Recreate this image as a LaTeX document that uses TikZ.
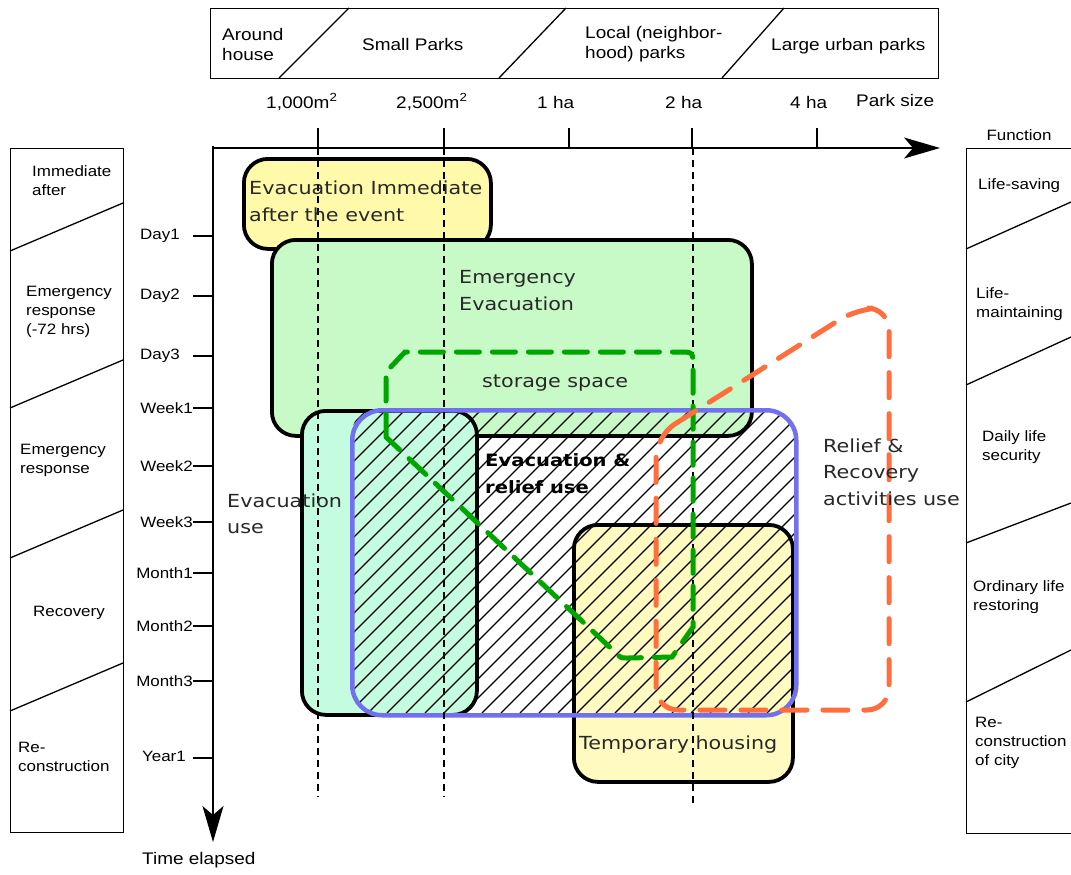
\documentclass[tikz,border=0pt]{standalone}
\usepackage{fontspec}
\setmainfont{Liberation Sans}[FakeStretch=1.13]
\newfontfamily\dv{DejaVu Sans}[FakeStretch=1.15]
\usetikzlibrary{arrows.meta}
\definecolor{yelbox}{RGB}{255,250,170}
\definecolor{grnbox}{RGB}{200,250,200}
\definecolor{mintbox}{RGB}{196,252,224}
\definecolor{housebox}{RGB}{255,251,192}
\definecolor{bluebd}{RGB}{112,112,240}
\definecolor{grndash}{RGB}{0,165,0}
\definecolor{orgdash}{RGB}{255,110,60}
\definecolor{txtgray}{RGB}{40,40,40}
\tikzset{
  frame/.style={draw, line width=1.3pt, inner sep=0pt, anchor=north west},
  toplbl/.style={font=\fontsize{16.8}{20}\selectfont, align=left, inner sep=0pt, anchor=west},
  sidelbl/.style={font=\fontsize{15}{19}\selectfont, align=left, inner sep=0pt, anchor=west},
  ticklbl/.style={font=\fontsize{15}{18}\selectfont, inner sep=0pt, anchor=east},
  boxlbl/.style={font=\dv\fontsize{18}{26.5}\selectfont, text=txtgray, align=left, inner sep=0pt, anchor=west},
  bigbox/.style={draw=black, line width=3.8pt, rounded corners=24pt, inner sep=0pt, anchor=north west},
  axisline/.style={line width=1.3pt, -{Stealth[length=36pt,width=21pt,inset=9pt]}},
  dashv/.style={line width=1.3pt, dash pattern=on 7pt off 5pt},
  gdash/.style={draw=grndash, line width=5pt, line cap=round, dash pattern=on 23pt off 13pt},
  odash/.style={draw=orgdash, line width=5pt, line cap=round, dash pattern=on 25pt off 16pt, rounded corners=22pt},
  hatchln/.style={line width=1.2pt}
}
\begin{document}
\begin{tikzpicture}[x=1pt,y=-1pt]
\useasboundingbox (0,0) rectangle (1071,875);
\fill[white] (0,0) rectangle (1071,875);

% ---------- top category box ----------
\node (topbox) [frame, minimum width=728pt, minimum height=70pt] at (210,8) {};
\draw[line width=1.3pt] (279,78) -- (349,8);
\draw[line width=1.3pt] (499,78) -- (566,8);
\draw[line width=1.3pt] (722,78) -- (784,8);
\node (t1) [toplbl] at (222,44) {Around\\house};
\node (t2) [toplbl] at (362,44) {Small Parks};
\node (t3) [toplbl] at (585,44) {Local (neighbor-\\hood) parks};
\node (t4) [toplbl] at (771,46) {Large urban parks};

% ---------- park size labels ----------
\node (s1) [toplbl] at (266,102) {1,000m\textsuperscript{2}};
\node (s2) [toplbl] at (396,102) {2,500m\textsuperscript{2}};
\node (s3) [toplbl] at (537,102) {1 ha};
\node (s4) [toplbl] at (665,102) {2 ha};
\node (s5) [toplbl] at (790,102) {4 ha};
\node (s6) [toplbl] at (856,100) {Park size};

% ---------- left phase box ----------
\node (lbox) [frame, minimum width=113pt, minimum height=684pt] at (10,148) {};
\draw[line width=1.3pt] (10,251) -- (123,203);
\draw[line width=1.3pt] (10,408) -- (123,360);
\draw[line width=1.3pt] (10,558) -- (123,510);
\draw[line width=1.3pt] (10,711) -- (123,663);
\node (l1) [sidelbl] at (32,181) {Immediate\\after};
\node (l2) [sidelbl] at (26,312) {Emergency\\response\\(-72 hrs)};
\node (l3) [sidelbl] at (20,460) {Emergency\\response};
\node (l4) [sidelbl] at (33,613) {Recovery};
\node (l5) [sidelbl] at (18,757) {Re-\\construction};

% ---------- right function box ----------
\node (fn) [font=\fontsize{15}{19}\selectfont, inner sep=0pt] at (1019,135) {Function};
\node (rbox) [frame, minimum width=130pt, minimum height=685pt] at (966,148) {};
\draw[line width=1.3pt] (966,249) -- (1071,202);
\draw[line width=1.3pt] (966,385) -- (1071,337);
\draw[line width=1.3pt] (966,543) -- (1071,503);
\draw[line width=1.3pt] (966,702) -- (1071,650);
\node (r1) [sidelbl] at (978,186) {Life-saving};
\node (r2) [sidelbl] at (976,304) {Life-\\maintaining};
\node (r3) [sidelbl] at (982,447) {Daily life\\security};
\node (r4) [sidelbl] at (973,597) {Ordinary life\\restoring};
\node (r5) [sidelbl] at (975,743) {Re-\\construction\\of city};

% ---------- axes ----------
\coordinate (origin) at (213,148);
\coordinate (xend) at (940,148);
\coordinate (yend) at (213,842);
\draw[axisline] (origin) -- (xend);
\draw[axisline] (213,146) -- (yend);
\foreach \x in {318,444,569,692,817} \draw[line width=1.3pt] (\x,128) -- (\x,148);
\foreach \y in {236,296,356,408,466,522,573,626,681,758} \draw[line width=1.3pt] (193,\y) -- (213,\y);
\node (d1) [ticklbl] at (180,236) {Day1};
\node (d2) [ticklbl] at (180,296) {Day2};
\node (d3) [ticklbl] at (180,356) {Day3};
\node (w1) [ticklbl] at (193,408) {Week1};
\node (w2) [ticklbl] at (193,466) {Week2};
\node (w3) [ticklbl] at (193,522) {Week3};
\node (m1) [ticklbl] at (193,573) {Month1};
\node (m2) [ticklbl] at (193,626) {Month2};
\node (m3) [ticklbl] at (193,681) {Month3};
\node (y1) [ticklbl] at (186,756) {Year1};
\node (te) [toplbl] at (142,860) {Time elapsed};

% ---------- boxes ----------
\node (evi) [bigbox, fill=yelbox, minimum width=247pt, minimum height=90pt] at (242,157) {};
\node (emev) [bigbox, fill=grnbox, minimum width=480pt, minimum height=196pt] at (270,238) {};
\node (evuse) [bigbox, fill=mintbox, minimum width=175pt, minimum height=304pt] at (300,409) {};
\node (house) [bigbox, fill=housebox, minimum width=219pt, minimum height=257pt] at (572,523) {};

% hatching inside relief area
\begin{scope}
  \clip[rounded corners=30pt] (350,408) rectangle (794,713);
  \foreach \i in {0,...,41} \draw[hatchln] ({45+\i*19},713) -- ++(305,-305);
\end{scope}
\node (relief) [draw=bluebd, line width=4.5pt, rounded corners=30pt, inner sep=0pt, anchor=north west, minimum width=444pt, minimum height=305pt] at (350,408) {};

% dashed size lines
\draw[dashv] (318,148) -- (318,797);
\draw[dashv] (444,148) -- (444,797);
\draw[dashv] (693,148) -- (693,803);

% storage space (green dashed)
\draw[gdash] (386,437) -- (386,372) -- (405,352) -- (679,352) .. controls (693,352) .. (693,366) -- (693,627) -- (672,657) -- (628,658) .. controls (621,658) .. (617,654) -- cycle;
% relief & recovery (orange dashed)
\draw[odash] (656,436) -- (858,308) -- (889,308) -- (889,710) -- (656,710) -- cycle;

% ---------- box labels ----------
\node (tevi) [boxlbl] at (249,201.5) {Evacuation Immediate\\after the event};
\node (temev) [boxlbl] at (459,290.5) {Emergency\\Evacuation};
\node (tstor) [boxlbl] at (482,383) {storage space};
\node (trel) [boxlbl, font=\dv\bfseries\fontsize{17}{26.5}\selectfont, text=black] at (485,473.5) {Evacuation \&\\relief use};
\node (tevu) [boxlbl] at (227,514) {Evacuation\\use};
\node (trec) [boxlbl] at (823,472) {Relief \&\\Recovery\\activities use};
\node (thou) [boxlbl] at (579,745) {Temporary housing};
\end{tikzpicture}
\end{document}
